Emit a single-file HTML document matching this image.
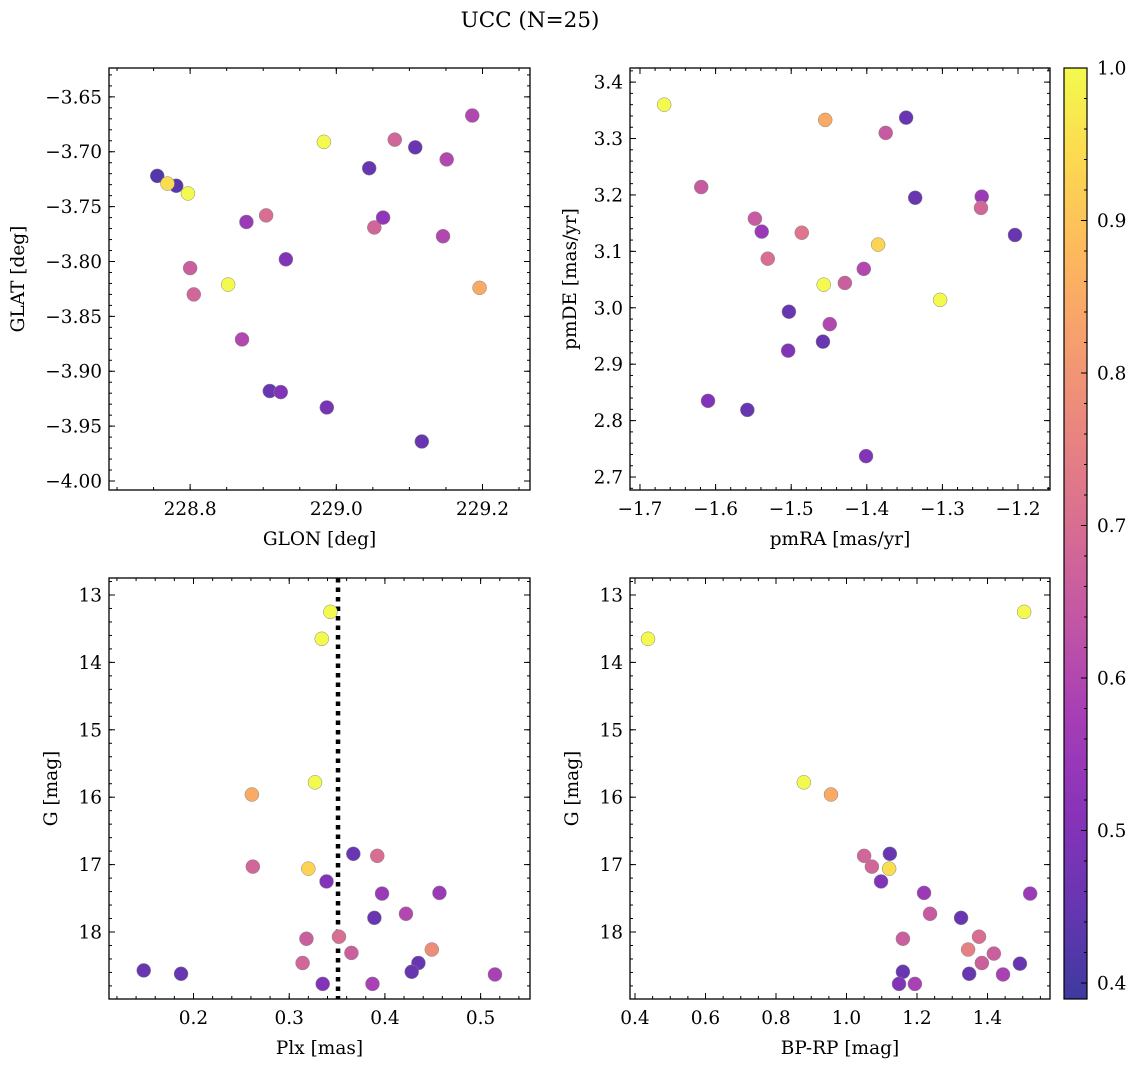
<!DOCTYPE html>
<html><head><meta charset="utf-8"><style>
html,body{margin:0;padding:0;background:#fff;}
svg{display:block;font-family:"DejaVu Serif","Liberation Serif",serif;}
</style></head><body>
<svg id="fig" width="1136" height="1067" viewBox="0 0 1136 1067">
<text x="530" y="27" font-size="21.5" text-anchor="middle">UCC (N=25)</text>
</svg>
<script>
// Panel 1: GLON vs GLAT
const p1x=[228.755,228.781,228.769,228.797,228.800,228.805,228.877,228.852,228.904,228.871,228.931,228.909,228.924,228.983,228.987,229.045,229.052,229.064,229.080,229.108,229.151,229.146,229.186,229.117,229.196];
const p1y=[-3.722,-3.731,-3.729,-3.738,-3.806,-3.830,-3.764,-3.821,-3.758,-3.871,-3.798,-3.918,-3.919,-3.691,-3.933,-3.715,-3.769,-3.760,-3.689,-3.696,-3.707,-3.777,-3.667,-3.964,-3.824];
const p1c=[0.42,0.43,0.95,1.0,0.66,0.68,0.55,1.0,0.7,0.6,0.5,0.45,0.5,1.0,0.48,0.45,0.68,0.53,0.68,0.45,0.6,0.6,0.6,0.45,0.85];
// Panel 2: pmRA vs pmDE
const p2x=[-1.668,-1.455,-1.375,-1.348,-1.619,-1.548,-1.539,-1.531,-1.486,-1.385,-1.336,-1.248,-1.249,-1.204,-1.457,-1.404,-1.429,-1.303,-1.503,-1.449,-1.504,-1.458,-1.610,-1.558,-1.401];
const p2y=[3.360,3.333,3.310,3.337,3.214,3.158,3.135,3.087,3.133,3.112,3.195,3.197,3.177,3.129,3.041,3.069,3.044,3.014,2.993,2.971,2.924,2.940,2.835,2.819,2.737];
const p2c=[1.0,0.85,0.65,0.45,0.65,0.65,0.55,0.7,0.72,0.93,0.45,0.55,0.68,0.45,1.0,0.6,0.66,1.0,0.45,0.6,0.5,0.45,0.5,0.45,0.5];
// Panel 3: Plx vs G
const p3x=[0.343,0.334,0.327,0.261,0.262,0.320,0.367,0.392,0.339,0.397,0.457,0.422,0.389,0.318,0.352,0.449,0.365,0.314,0.435,0.428,0.148,0.187,0.335,0.387,0.515];
const p3y=[13.25,13.65,15.78,15.96,17.03,17.06,16.84,16.87,17.25,17.43,17.42,17.73,17.79,18.10,18.07,18.26,18.31,18.46,18.46,18.59,18.57,18.62,18.77,18.77,18.63];
const p3c=[1.0,1.0,1.0,0.85,0.68,0.93,0.45,0.7,0.5,0.55,0.55,0.6,0.45,0.66,0.7,0.78,0.66,0.68,0.45,0.45,0.45,0.45,0.5,0.58,0.58];
const plxLine=[0.351];
// Panel 4: BP-RP vs G
const p4x=[1.504,0.437,0.879,0.956,1.050,1.072,1.121,1.123,1.098,1.220,1.237,1.325,1.521,1.160,1.376,1.345,1.384,1.418,1.492,1.160,1.348,1.444,1.149,1.194];
const p4y=[13.25,13.65,15.78,15.96,16.87,17.03,17.06,16.84,17.25,17.42,17.73,17.79,17.43,18.10,18.07,18.26,18.46,18.32,18.47,18.59,18.62,18.63,18.77,18.77];
const p4c=[1.0,1.0,1.0,0.85,0.68,0.68,0.95,0.45,0.5,0.55,0.65,0.45,0.55,0.66,0.7,0.75,0.66,0.66,0.45,0.45,0.45,0.58,0.5,0.58];
// Colorbar
const cbMin=0.3895, cbMax=1.0;
const cbTicks=[0.4,0.5,0.6,0.7,0.8,0.9,1.0];
const cbTickLabels=["0.4","0.5","0.6","0.7","0.8","0.9","1.0"];

const NS="http://www.w3.org/2000/svg";
const svg=document.getElementById('fig');
const FS=18.5;
function mk(tag,attrs,parent){const e=document.createElementNS(NS,tag);for(const k in attrs)e.setAttribute(k,attrs[k]);(parent||svg).appendChild(e);return e;}

const stops=[[0,[13,8,135]],[0.125,[65,4,157]],[0.25,[106,0,168]],[0.375,[143,13,164]],[0.5,[177,42,144]],[0.625,[204,71,120]],[0.75,[225,100,98]],[0.875,[242,132,75]],[1,[252,166,54]],[1.125,[252,206,37]],[1.25,[240,249,33]]];
function plasma(t){t=Math.max(0,Math.min(1,t))*1.25;for(let i=0;i<stops.length-1;i++){const a=stops[i],b=stops[i+1];if(t<=b[0]){const f=(t-a[0])/(b[0]-a[0]);const c=a[1].map((v,j)=>v+(b[1][j]-v)*f);const al=0.8;return 'rgb('+c.map(v=>Math.round(v*al+255*(1-al))).join(',')+')';}}return 'rgb(242,248,78)';}
function cmap(v){return plasma((v-cbMin)/(cbMax-cbMin));}

function fmt(v,d){let s=v.toFixed(d);if(v<0)s='\u2212'+s.slice(1);return s;}

function panel(name,box,xr,yr,xMaj,xMin,yMaj,yMin,xd,yd,xlabel,ylabel,invY,yOff){
  const [L,T,R,B]=box;
  const g=mk('g',{});
  
  
  const sx=v=>L+(v-xr[0])/(xr[1]-xr[0])*(R-L);
  const sy=invY?(v=>T+(v-yr[0])/(yr[1]-yr[0])*(B-T)):(v=>B-(v-yr[0])/(yr[1]-yr[0])*(B-T));
  function range(a,b,s){const o=[];const st=Math.ceil(Math.min(a,b)/s-1e-6);for(let k=st;k*s<=Math.max(a,b)+1e-9;k++)o.push(+(k*s).toFixed(6));return o;}
  const tg=mk('g',{stroke:'#000','stroke-width':1},g);
  
  
  range(xr[0],xr[1],xMin).forEach(v=>{const x=sx(v);mk('line',{x1:x,x2:x,y1:B,y2:B-3},tg);mk('line',{x1:x,x2:x,y1:T,y2:T+3},tg);});
  range(yr[0],yr[1],yMin).forEach(v=>{const y=sy(v);mk('line',{x1:L,x2:L+3,y1:y,y2:y},tg);mk('line',{x1:R,x2:R-3,y1:y,y2:y},tg);});
  range(xr[0],xr[1],xMaj).forEach(v=>{const x=sx(v);mk('line',{x1:x,x2:x,y1:B,y2:B-6},tg);mk('line',{x1:x,x2:x,y1:T,y2:T+6},tg);
    const t=mk('text',{x:x,y:B+25,'font-size':FS,'text-anchor':'middle'},g);t.textContent=fmt(v,xd);
    
    });
  range(yr[0],yr[1],yMaj).forEach(v=>{const y=sy(v);mk('line',{x1:L,x2:L+6,y1:y,y2:y},tg);mk('line',{x1:R,x2:R-6,y1:y,y2:y},tg);
    const t=mk('text',{x:L-7,y:y+6.5,'font-size':FS,'text-anchor':'end'},g);t.textContent=fmt(v,yd);
    
    });
  const xl=mk('text',{x:(L+R)/2,y:B+55,'font-size':FS,'text-anchor':'middle'},g);xl.textContent=xlabel;
  
  
  const yl=mk('text',{x:0,y:0,'font-size':FS,'text-anchor':'middle',transform:'translate('+(L-yOff)+','+((T+B)/2)+') rotate(-90)'},g);yl.textContent=ylabel;
  
  
  return {g,sx,sy,L,T,R,B};
}
function frame(p,name){const r=mk('rect',{x:p.L,y:p.T,width:p.R-p.L,height:p.B-p.T,fill:'none',stroke:'#000','stroke-width':1.3},p.g);
  
  }
function scatter(p,xs,ys,cs,name){xs.forEach((v,i)=>{const c=mk('circle',{cx:p.sx(v),cy:p.sy(ys[i]),r:7,fill:cmap(cs[i]),stroke:'#888','stroke-width':0.5},p.g);
  
  });}

const P1=panel('glon-glat-panel',[109,68,530,490],[228.689,229.265],[-4.0082,-3.6237],0.2,0.05,0.05,0.01,1,2,'GLON [deg]','GLAT [deg]',false,85);
scatter(P1,p1x,p1y,p1c,'glon-glat');frame(P1,'glon-glat');
const P2=panel('pm-panel',[630,68,1050,490],[-1.7132,-1.1577],[2.677,3.425],0.1,0.02,0.1,0.02,1,1,'pmRA [mas/yr]','pmDE [mas/yr]',false,54);
scatter(P2,p2x,p2y,p2c,'pm');frame(P2,'pm');
const P3=panel('plx-g-panel',[109,578,530,999],[0.1117,0.5516],[12.748,18.994],0.1,0.02,1,0.2,1,0,'Plx [mas]','G [mag]',true,52);
plxLine.forEach(v=>{const l=mk('line',{x1:P3.sx(v),x2:P3.sx(v),y1:P3.T,y2:P3.B,stroke:'#000','stroke-width':4.5,'stroke-dasharray':'4.5 5'},P3.g);
  
  });
scatter(P3,p3x,p3y,p3c,'plx-g');frame(P3,'plx-g');
const P4=panel('cmd-panel',[630,578,1050,999],[0.3858,1.5773],[12.748,18.994],0.2,0.05,1,0.2,1,0,'BP-RP [mag]','G [mag]',true,52);
scatter(P4,p4x,p4y,p4c,'cmd');frame(P4,'cmd');

// colorbar
const cb=mk('g',{});


const CL=1064,CR=1087,CT=68,CB=999;
const cy=v=>CB-(v-cbMin)/(cbMax-cbMin)*(CB-CT);
const defs=mk('defs',{},cb);
const grad=mk('linearGradient',{id:'cbg',x1:0,y1:1,x2:0,y2:0},defs);
for(let i=0;i<=40;i++){const t=i/40;mk('stop',{offset:t,'stop-color':plasma(t)},grad);}
const cr=mk('rect',{x:CL,y:CT,width:CR-CL,height:CB-CT,fill:'url(#cbg)',stroke:'#000','stroke-width':1.2},cb);


for(let v=0.40;v<=1.0001;v+=0.02){const y=cy(v);mk('line',{x1:CR,x2:CR-3,y1:y,y2:y,stroke:'#000'},cb);}
cbTicks.forEach((v,i)=>{const y=cy(v);mk('line',{x1:CR,x2:CR-6,y1:y,y2:y,stroke:'#000'},cb);
  const t=mk('text',{x:CR+10,y:y+6.5,'font-size':FS},cb);t.textContent=cbTickLabels[i];
  
  });
</script>
</body></html>
